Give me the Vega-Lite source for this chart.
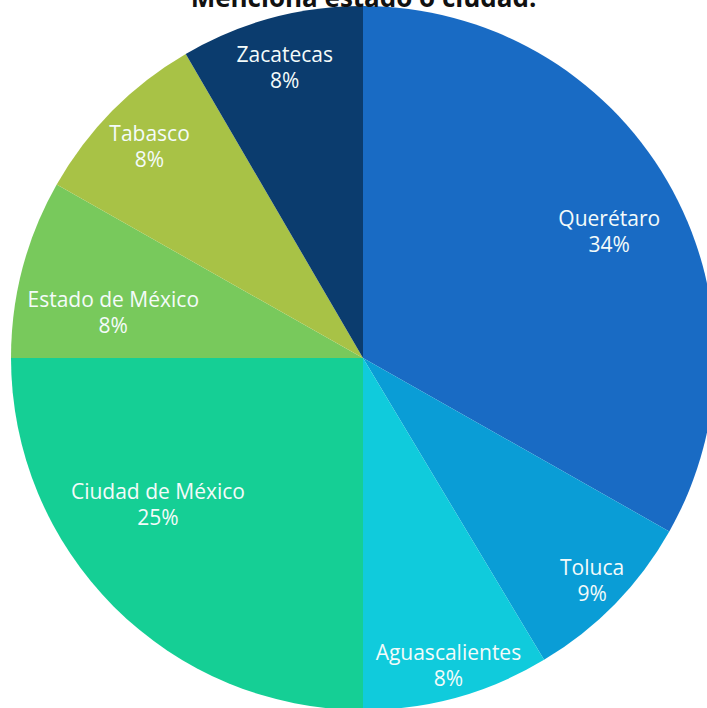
{
  "$schema": "https://vega.github.io/schema/vega-lite/v6.json",
  "width": 707,
  "height": 708,
  "padding": 0,
  "autosize": {"type": "none"},
  "background": "white",
  "title": {
    "text": "Menciona estado o ciudad:",
    "font": "Open Sans",
    "fontSize": 26,
    "fontWeight": "bold",
    "color": "#111111",
    "anchor": "middle",
    "offset": -15,
    "dx": 10
  },
  "view": {"stroke": null},
  "data": {
    "values": [
      {"orden": 1, "nombre": "Querétaro", "pct": "34%", "valor": 33.2},
      {"orden": 2, "nombre": "Toluca", "pct": "9%", "valor": 8.2},
      {"orden": 3, "nombre": "Aguascalientes", "pct": "8%", "valor": 8.6},
      {"orden": 4, "nombre": "Ciudad de México", "pct": "25%", "valor": 25},
      {"orden": 5, "nombre": "Estado de México", "pct": "8%", "valor": 8.2},
      {"orden": 6, "nombre": "Tabasco", "pct": "8%", "valor": 8.4},
      {"orden": 7, "nombre": "Zacatecas", "pct": "8%", "valor": 8.4}
    ]
  },
  "encoding": {
    "theta": {"field": "valor", "type": "quantitative", "stack": true},
    "order": {"field": "orden", "type": "quantitative", "sort": "ascending"},
    "color": {
      "field": "nombre",
      "type": "nominal",
      "legend": null,
      "scale": {
        "domain": ["Querétaro", "Toluca", "Aguascalientes", "Ciudad de México", "Estado de México", "Tabasco", "Zacatecas"],
        "range": ["#196bc4", "#0a9dd6", "#10cbdc", "#15cf95", "#78c95c", "#a8c246", "#0b3c6e"]
      }
    }
  },
  "layer": [
    {"mark": {"type": "arc", "x": 363, "y": 358, "outerRadius": 352, "stroke": null}},
    {
      "mark": {"type": "text", "x": 363, "y": 358, "radius": 285, "font": "Open Sans", "fontSize": 21, "baseline": "middle", "dy": 6},
      "encoding": {"text": {"condition": {"test": "datum.nombre === 'Querétaro'", "field": "nombre"}, "value": ""}, "color": {"value": "#f4fbfa"}}
    },
    {
      "mark": {"type": "text", "x": 363, "y": 358, "radius": 285, "font": "Open Sans", "fontSize": 21, "baseline": "middle", "dy": 32},
      "encoding": {"text": {"condition": {"test": "datum.nombre === 'Querétaro'", "field": "pct"}, "value": ""}, "color": {"value": "#f4fbfa"}}
    },
    {
      "mark": {"type": "text", "x": 363, "y": 358, "radius": 300, "font": "Open Sans", "fontSize": 21, "baseline": "middle", "dy": -12},
      "encoding": {"text": {"condition": {"test": "indexof(['Tabasco','Zacatecas'], datum.nombre) >= 0", "field": "nombre"}, "value": ""}, "color": {"value": "#f4fbfa"}}
    },
    {
      "mark": {"type": "text", "x": 363, "y": 358, "radius": 300, "font": "Open Sans", "fontSize": 21, "baseline": "middle", "dy": 14},
      "encoding": {"text": {"condition": {"test": "indexof(['Tabasco','Zacatecas'], datum.nombre) >= 0", "field": "pct"}, "value": ""}, "color": {"value": "#f4fbfa"}}
    },
    {
      "mark": {"type": "text", "x": 363, "y": 358, "radius": 320, "font": "Open Sans", "fontSize": 21, "baseline": "middle", "dy": -12},
      "encoding": {"text": {"condition": {"test": "indexof(['Toluca','Aguascalientes'], datum.nombre) >= 0", "field": "nombre"}, "value": ""}, "color": {"value": "#f4fbfa"}}
    },
    {
      "mark": {"type": "text", "x": 363, "y": 358, "radius": 320, "font": "Open Sans", "fontSize": 21, "baseline": "middle", "dy": 14},
      "encoding": {"text": {"condition": {"test": "indexof(['Toluca','Aguascalientes'], datum.nombre) >= 0", "field": "pct"}, "value": ""}, "color": {"value": "#f4fbfa"}}
    },
    {
      "mark": {"type": "text", "x": 363, "y": 358, "radius": 290, "font": "Open Sans", "fontSize": 21, "baseline": "middle", "dy": -70},
      "encoding": {"text": {"condition": {"test": "datum.nombre === 'Ciudad de México'", "field": "nombre"}, "value": ""}, "color": {"value": "#f4fbfa"}}
    },
    {
      "mark": {"type": "text", "x": 363, "y": 358, "radius": 290, "font": "Open Sans", "fontSize": 21, "baseline": "middle", "dy": -44},
      "encoding": {"text": {"condition": {"test": "datum.nombre === 'Ciudad de México'", "field": "pct"}, "value": ""}, "color": {"value": "#f4fbfa"}}
    },
    {
      "mark": {"type": "text", "x": 363, "y": 358, "radius": 250, "font": "Open Sans", "fontSize": 21, "baseline": "middle", "dx": -8, "dy": 7},
      "encoding": {"text": {"condition": {"test": "datum.nombre === 'Estado de México'", "field": "nombre"}, "value": ""}, "color": {"value": "#f4fbfa"}}
    },
    {
      "mark": {"type": "text", "x": 363, "y": 358, "radius": 250, "font": "Open Sans", "fontSize": 21, "baseline": "middle", "dx": -8, "dy": 33},
      "encoding": {"text": {"condition": {"test": "datum.nombre === 'Estado de México'", "field": "pct"}, "value": ""}, "color": {"value": "#f4fbfa"}}
    }
  ]
}
